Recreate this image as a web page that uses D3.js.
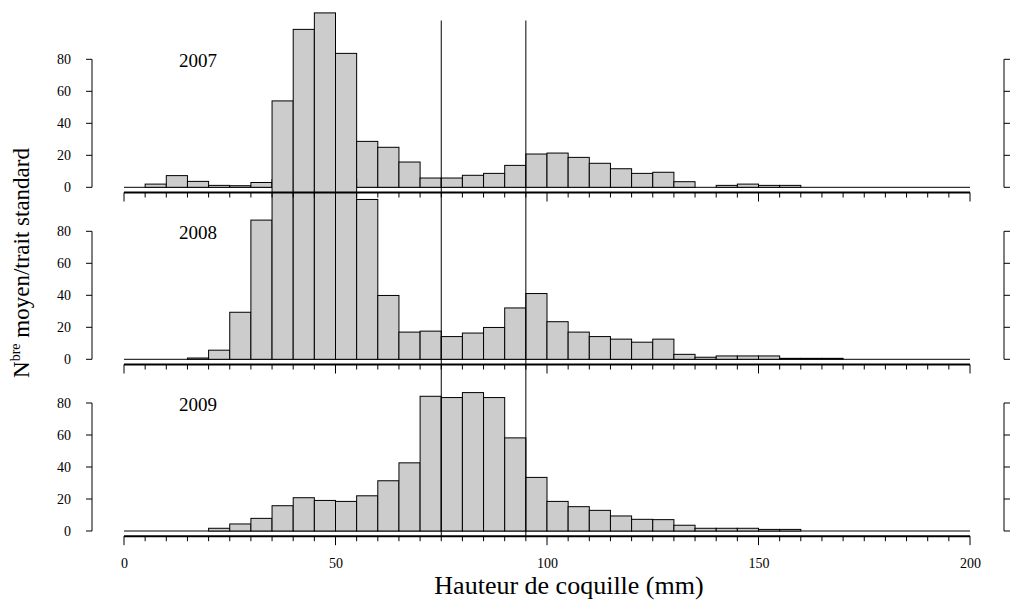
<!DOCTYPE html>
<html>
<head>
<meta charset="utf-8">
<script src="https://cdn.jsdelivr.net/npm/d3@7"></script>
<style>
	body { margin: 0; background: #fff; }
	svg { display: block; font-family: "Liberation Serif", "DejaVu Serif", serif; }
</style>
</head>
<body>
<div id="chart"></div>
<script>
// bins of 5 mm from 0 to 200
var binStart = d3.range(0, 200, 5);
var binWidth = 5;

var years = ['2007', '2008', '2009'];

var counts2007 = [0, 2, 7.3, 3.7, 1.2, 1, 3, 54, 98.7, 109, 83.7, 28.7, 25, 15.8, 5.8, 5.8, 7.5, 8.7, 13.7, 20.8,
	21.4, 18.7, 15, 11.6, 8.7, 9.4, 3.5, 0, 1.2, 2, 1.2, 1.2, 0, 0, 0, 0, 0, 0, 0, 0];
var counts2008 = [0, 0, 0, 0.8, 5.7, 29.4, 87, 115, 130, 135, 120, 99.9, 39.9, 17, 17.6, 14.2, 16.4, 19.9, 32.1, 41.1,
	23.5, 17, 14.2, 12.6, 10.7, 12.6, 3.1, 1.3, 2.1, 2.1, 2.1, 0.6, 0.6, 0.6, 0, 0, 0, 0, 0, 0];
var counts2009 = [0, 0, 0, 0, 1.7, 4.4, 7.9, 15.8, 20.8, 19.1, 18.5, 22, 31.4, 42.6, 84.2, 83.4, 86.5, 83.4, 58.2, 33.5,
	18.5, 15.2, 12.9, 9.4, 7.3, 7.1, 3.6, 1.7, 1.7, 1.7, 1.0, 1.0, 0, 0, 0, 0, 0, 0, 0, 0];
var allCounts = [counts2007, counts2008, counts2009];

var yTicks = [0, 20, 40, 60, 80];
var xTicks = d3.range(0, 201, 5);
var xLabels = [0, 50, 100, 150, 200];
var refLines = [75, 95];

var width = 1010, height = 600;
var panelZero = [187.3, 359.3, 531];
var panelTop = [10, 179, 350]; // clip top for each panel's bars

var x = d3.scaleLinear().domain([0, 200]).range([124, 970]);

var svg = d3.select('#chart').append('svg')
	.attr('width', width)
	.attr('height', height);

var defs = svg.append('defs');

var yScales = [];
for (var p = 0; p < years.length; p++){
	var y = d3.scaleLinear().domain([0, 80]).range([panelZero[p], panelZero[p] - 128]);
	yScales.push(y);

	defs.append('clipPath')
		.attr('id', 'clip' + p)
		.append('rect')
		.attr('x', 0)
		.attr('y', panelTop[p])
		.attr('width', width)
		.attr('height', panelZero[p] + 10 - panelTop[p]);
}

// bars (zero bins show as a flat line on the baseline)
for (var p = 0; p < years.length; p++){
	var y = yScales[p];
	var data = allCounts[p].map(function(v, i){ return { x0: binStart[i], v: v }; });
	var g = svg.append('g')
		.attr('clip-path', 'url(#clip' + p + ')');

	g.append('line')
		.attr('x1', x(0)).attr('x2', x(200))
		.attr('y1', y(0)).attr('y2', y(0))
		.attr('stroke', '#000');

	g.selectAll('rect')
		.data(data.filter(function(d){ return d.v > 0; }))
		.enter().append('rect')
		.attr('x', function(d){ return x(d.x0); })
		.attr('y', function(d){ return y(d.v); })
		.attr('width', function(d){ return x(d.x0 + binWidth) - x(d.x0); })
		.attr('height', function(d){ return y(0) - y(d.v); })
		.attr('fill', '#cccccc')
		.attr('stroke', '#000')
		.attr('stroke-width', 1);
}

// axes
for (var p = 0; p < years.length; p++){
	var y = yScales[p];
	var g = svg.append('g');

	// left y axis
	g.append('line')
		.attr('x1', 92).attr('x2', 92)
		.attr('y1', y(0)).attr('y2', y(80))
		.attr('stroke', '#000');
	g.selectAll('.ytick')
		.data(yTicks)
		.enter().append('line')
		.attr('x1', 86).attr('x2', 92)
		.attr('y1', function(d){ return y(d); })
		.attr('y2', function(d){ return y(d); })
		.attr('stroke', '#000');
	g.selectAll('.ylab')
		.data(yTicks)
		.enter().append('text')
		.attr('x', 71)
		.attr('y', function(d){ return y(d); })
		.attr('dy', '0.35em')
		.attr('text-anchor', 'end')
		.attr('font-size', 14)
		.text(function(d){ return d; });

	// right edge axis (partly cut off)
	g.append('line')
		.attr('x1', 1004).attr('x2', 1004)
		.attr('y1', y(0)).attr('y2', y(80))
		.attr('stroke', '#000');
	g.selectAll('.rtick')
		.data(yTicks)
		.enter().append('line')
		.attr('x1', 1004).attr('x2', 1012)
		.attr('y1', function(d){ return y(d); })
		.attr('y2', function(d){ return y(d); })
		.attr('stroke', '#000');

	// x axis
	var axY = y(0) + 5.2;
	g.append('line')
		.attr('x1', x(0)).attr('x2', x(200))
		.attr('y1', axY).attr('y2', axY)
		.attr('stroke', '#000')
		.attr('stroke-width', 2);
	g.selectAll('.xtick')
		.data(xTicks)
		.enter().append('line')
		.attr('x1', function(d){ return x(d); })
		.attr('x2', function(d){ return x(d); })
		.attr('y1', axY)
		.attr('y2', function(d){ return d % 50 == 0 ? axY + 9 : axY + 5; })
		.attr('stroke', '#000');

	// year label
	g.append('text')
		.attr('x', 198)
		.attr('y', y(75))
		.attr('text-anchor', 'middle')
		.attr('font-size', 19)
		.text(years[p]);
}

// x tick labels on bottom panel, through d3's own axis
var xAxis = d3.axisBottom(x)
	.tickValues(xLabels)
	.tickSize(0)
	.tickPadding(0)
	.tickFormat(d3.format('d'));
var gx = svg.append('g')
	.attr('transform', 'translate(0,558)')
	.call(xAxis);
gx.select('.domain').remove();
gx.selectAll('text')
	.attr('font-family', '"Liberation Serif", serif')
	.attr('font-size', 14)
	.attr('fill', '#000');

// reference lines at 75 and 95 mm
svg.selectAll('.ref')
	.data(refLines)
	.enter().append('line')
	.attr('x1', function(d){ return x(d); })
	.attr('x2', function(d){ return x(d); })
	.attr('y1', 20.5)
	.attr('y2', panelZero[2] + 5)
	.attr('stroke', '#000')
	.attr('stroke-width', 1);

// axis titles
svg.append('text')
	.attr('x', 569)
	.attr('y', 594)
	.attr('text-anchor', 'middle')
	.attr('font-size', 26)
	.text('Hauteur de coquille (mm)');

var yTitle = svg.append('text')
	.attr('transform', 'translate(29,263) rotate(-90)')
	.attr('text-anchor', 'middle')
	.attr('font-size', 23);
yTitle.append('tspan').text('N');
yTitle.append('tspan').attr('dy', -9).attr('font-size', 14).text('bre');
yTitle.append('tspan').attr('dy', 9).text(' moyen/trait standard');
</script>
</body>
</html>
